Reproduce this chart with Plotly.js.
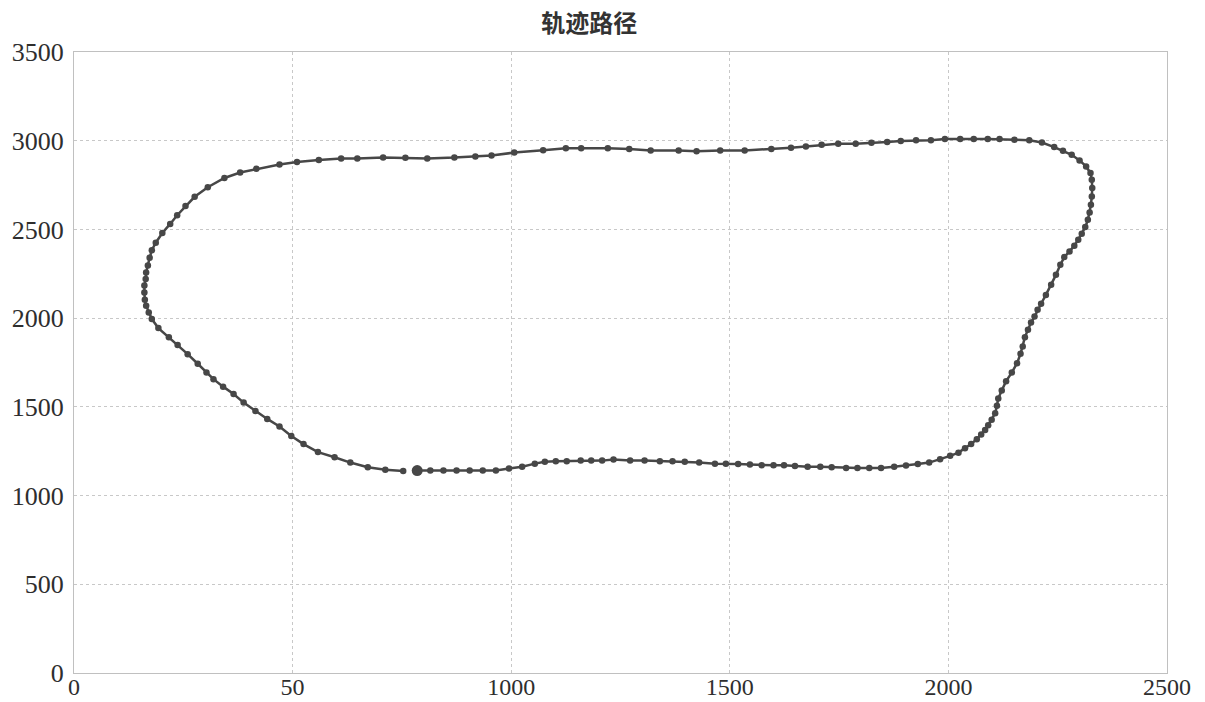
<!DOCTYPE html>
<html>
<head>
<meta charset="utf-8">
<script src="https://cdn.plot.ly/plotly-3.0.1.min.js"></script>
<style>html,body{margin:0;padding:0;background:#fff;}#chart{width:1205px;height:702px;}</style>
</head>
<body>
<div id="chart"></div>
<script>
// Trajectory points (first point = start, drawn larger)
const pathX = [785,815,845,875,905,935,965,995,1025,1054,1077,1102,1127,1159,1183,1208,1234,1272,1305,1340,1369,1397,1430,1466,1491,1519,1546,1573,1600,1624,1649,1678,1707,1733,1766,1792,1819,1846,1876,1903,1930,
1956,1981,2004,2023,2038,2052,2065,2075,2084,2091,2099,2107,2111,2114,2122,2132,2145,2157,2165,2170,2175,2182,2189,2197,2204,2212,
2223,2235,2246,2256,2265,2277,2288,2297,2305,2313,2319,2323,2326,2328,2329,2328,2325,2315,2300,2282,2262,2242,2214,2185,2151,2117,2090,2058,2027,1992,1960,1926,1891,1860,1824,1788,1748,1710,1674,
1640,1595,1534,1478,1424,1383,1319,1270,1221,1160,1125,1073,1007,955,918,870,808,758,707,648,611,560,510,470,417,380,344,306,276,255,236,220,202,187,178,173,169,165,164,161,161,162,165,171,178,193,217,237,260,283,303,319,341,365,388,415,442,470,497,525,558,596,632,672,712,753];
const pathY = [1141,1141,1141,1141,1141,1141,1141,1152,1163,1180,1190,1194,1194,1197,1197,1197,1203,1197,1197,1194,1194,1190,1186,1180,1180,1178,1175,1171,1171,1171,1167,1163,1163,1160,1156,1156,1156,1156,1163,1169,1178,
1186,1205,1224,1242,1267,1291,1318,1344,1370,1397,1427,1464,1506,1547,1592,1645,1693,1746,1799,1840,1893,1934,1975,2009,2047,2081,
2131,2188,2244,2301,2344,2376,2408,2442,2475,2513,2554,2596,2639,2686,2733,2780,2818,2855,2889,2921,2944,2964,2990,3002,3006,3010,3010,3010,3010,3010,3002,3002,2998,2993,2989,2983,2983,2977,2968,
2960,2953,2945,2945,2940,2945,2945,2953,2957,2957,2957,2946,2933,2917,2911,2905,2900,2904,2906,2900,2900,2891,2880,2866,2842,2821,2790,2738,2684,2632,2580,2531,2480,2425,2383,2340,2297,2257,2220,2184,2145,2103,2070,2032,1995,1944,1893,1848,1797,1743,1693,1656,1614,1572,1524,1477,1432,1389,1336,1290,1245,1216,1186,1160,1145,1139];

const xTickVals = [0,500,1000,1500,2000,2500];
const xTickText = ["0","50","1000","1500","2000","2500"];
const yTickVals = [0,500,1000,1500,2000,2500,3000,3500];
const titleText = "轨迹路径";

const lineColor = "#474747";
const traces = [
  {
    x: pathX, y: pathY, type: "scatter", mode: "lines+markers",
    line: {color: lineColor, width: 2.5},
    marker: {color: lineColor, size: 6.5},
    hoverinfo: "x+y", showlegend: false
  },
  {
    x: [pathX[0]], y: [pathY[0]], type: "scatter", mode: "markers",
    marker: {color: lineColor, size: 11},
    showlegend: false
  }
];

const serif = "Liberation Serif, Times New Roman, serif";
const layout = {
  width: 1205, height: 702,
  paper_bgcolor: "#ffffff", plot_bgcolor: "#ffffff",
  margin: {l: 74, r: 38, t: 52, b: 29, pad: 0},
  title: {
    text: titleText,
    font: {family: "Noto Sans CJK SC, sans-serif", size: 24, color: "#333333", weight: 600},
    x: 0.489, xref: "container", xanchor: "center",
    y: 1 - 24/702, yref: "container", yanchor: "middle"
  },
  xaxis: {
    range: [0, 2500], tickmode: "array", tickvals: xTickVals, ticktext: xTickText,
    showgrid: true, gridcolor: "#c8c8c8", griddash: "dot", gridwidth: 1,
    zeroline: false, showline: true, linecolor: "#c0c0c0", linewidth: 1, mirror: true,
    ticks: "", tickfont: {family: serif, size: 24, color: "#2e2e2e"},
    automargin: false, ticklabelstandoff: -8
  },
  yaxis: {
    range: [0, 3500], tickmode: "array", tickvals: yTickVals,
    showgrid: true, gridcolor: "#c8c8c8", griddash: "dot", gridwidth: 1,
    zeroline: false, showline: true, linecolor: "#c0c0c0", linewidth: 1, mirror: true,
    ticks: "", tickfont: {family: serif, size: 26, color: "#2e2e2e"},
    automargin: false, ticklabelstandoff: 4
  },
  showlegend: false
};
Plotly.newPlot("chart", traces, layout, {displayModeBar: false, staticPlot: true});
</script>
</body>
</html>
